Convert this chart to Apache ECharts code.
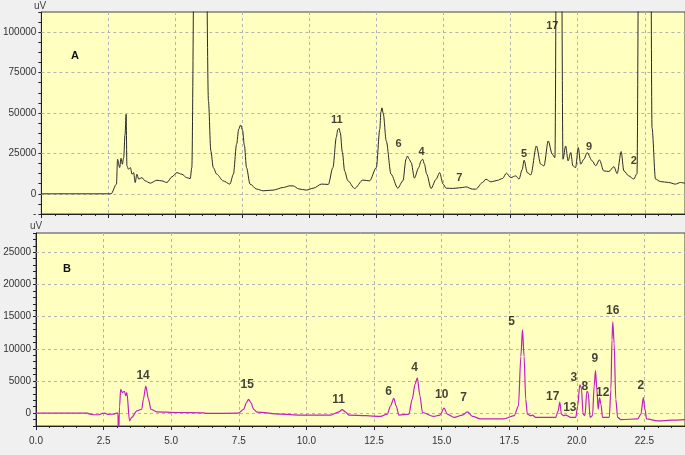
<!DOCTYPE html>
<html>
<head>
<meta charset="utf-8">
<script src="https://cdn.jsdelivr.net/npm/echarts@6/dist/echarts.min.js"></script>
<style>
html,body{margin:0;padding:0;background:#f0f0f0;}
#chart{width:685px;height:455px;}
</style>
</head>
<body>
<div id="chart"></div>
<script>
// ---- Panel A (top) chromatogram ----
const topTimes = [0,2.6,2.8,2.84,2.92,2.97,3.02,3.07,3.12,3.16,3.19,3.25,3.32,3.38,3.44,3.5,3.56,3.63,3.75,3.87,4.06,4.31,4.49,4.68,4.87,5.05,5.24,5.42,5.55,5.61,5.72,5.85,6.0,6.12,6.23,6.32,6.41,6.54,6.78,7.03,7.16,7.28,7.36,7.43,7.5,7.57,7.65,7.78,8.03,8.27,8.64,9.02,9.26,9.39,9.6,9.88,10.15,10.44,10.7,10.87,11.0,11.05,11.1,11.15,11.22,11.31,11.43,11.68,11.99,12.24,12.49,12.62,12.66,12.7,12.75,12.86,13.04,13.29,13.48,13.6,13.65,13.71,13.79,13.91,14.07,14.16,14.22,14.28,14.37,14.53,14.72,14.85,14.98,15.09,15.33,15.46,15.71,15.83,16.08,16.2,16.45,16.58,16.76,16.82,17.0,17.2,17.34,17.5,17.69,17.81,17.93,18.0,18.12,18.25,18.46,18.62,18.74,18.9,19.05,19.15,19.22,19.3,19.38,19.45,19.55,19.64,19.74,19.82,19.92,20.02,20.11,20.23,20.35,20.54,20.67,20.81,20.97,21.16,21.35,21.47,21.62,21.72,21.9,22.09,22.21,22.3,22.5,22.7,22.77,22.9,23.08,23.39,23.64,23.83,24.0];
const topSignal = [0,0,6000,21400,16200,22000,18300,22400,36800,49200,17300,15200,16200,12100,13100,7000,12100,9100,10000,8000,6600,8400,8000,7000,10500,13100,12100,10000,9400,16200,200000,400000,400000,200000,57400,26500,16200,12100,8000,6000,12100,30700,40000,42600,39500,30000,16200,6000,2900,1850,2300,3900,4900,4900,3000,2300,3500,6000,5800,16200,35000,39500,40500,37500,26000,14000,8000,3300,8500,8000,16200,40000,50500,53200,49500,32700,12100,3500,8000,21500,23400,21500,19300,9700,16200,20500,21400,18500,12100,3300,9000,13100,6000,3500,3300,3500,3900,4300,2900,2900,7000,9000,7400,7600,8300,9500,12800,10000,11100,9100,15000,20800,13100,11700,29600,18300,17300,32700,24500,22400,200000,400000,200000,21400,29600,20400,25500,17300,16200,28600,18300,21400,25500,20400,17300,21000,14200,13800,16800,12500,26100,14200,11100,9100,12500,250000,400000,250000,40900,9100,7600,7000,6000,7000,6500];
const topPeakNames = ['11','6','4','7','5','17','9','2'];
const topPeakTimes = [11.02,13.32,14.18,15.58,18.0,19.05,20.42,22.09];
const topPeakLevels = [45660,30670,26100,9690,24500,104090,29000,20360];
const topYTicks = [0,25000,50000,75000,100000];

// ---- Panel B (bottom) chromatogram ----
const bottomTimes = [0,1.9,2.0,2.1,2.35,2.45,2.55,2.65,2.85,2.99,3.03,3.05,3.09,3.13,3.2,3.27,3.32,3.36,3.46,3.54,3.73,3.91,3.97,4.06,4.16,4.25,4.47,5.21,6.2,6.3,7.49,7.68,7.78,7.86,7.95,8.05,8.17,9.04,9.78,10.89,11.2,11.32,11.44,11.57,12.2,12.74,12.99,13.11,13.23,13.32,13.42,13.79,13.91,14.02,14.1,14.2,14.29,14.71,14.94,15.09,15.21,15.46,15.77,15.95,16.14,16.44,17.3,17.68,17.84,17.93,17.99,18.05,18.11,18.17,18.3,18.36,18.48,19.22,19.31,19.37,19.43,19.51,19.59,19.78,19.96,20.03,20.11,20.17,20.23,20.3,20.37,20.42,20.49,20.58,20.64,20.69,20.74,20.79,20.84,20.89,20.95,21.2,21.26,21.3,21.33,21.38,21.44,21.51,21.63,22.25,22.37,22.46,22.52,22.58,22.99,23.5,24.0];
const bottomSignal = [0,0,-150,-250,-250,-50,0,-200,-150,0,0,-4000,1000,3700,3200,3400,2700,3200,-1200,-660,350,600,2150,4200,2150,600,200,100,50,-50,0,600,1600,2150,1600,600,150,-150,-300,-300,200,540,200,-300,-400,-500,-150,1100,2300,1100,-300,-150,2150,4500,5500,2650,100,-500,-300,770,-150,-660,-300,200,-500,-900,-900,-400,1100,8800,13000,8800,2150,-150,-400,-300,-660,-660,350,1730,-150,-400,-300,-660,-660,1100,4400,3900,-150,-400,3400,3200,-660,-400,4200,6600,3700,600,2400,1400,-660,-660,3700,11400,14200,10800,2150,-660,-1000,-900,-150,2400,600,-900,-1200,-1100,-1000];
const bottomPeakNames = ['14','15','11','6','4','10','7','5','17','13','3','8','9','12','16','2'];
const bottomPeakTimes = [3.96,7.81,11.19,13.04,14.0,15.0,15.81,17.59,19.11,19.74,19.89,20.3,20.67,20.96,21.33,22.37];
const bottomPeakLevels = [5830,4450,2150,3370,7060,2900,2450,14270,2600,770,5520,4140,8440,3220,15950,4300];
const bottomYTicks = [0,5000,10000,15000,20000,25000];

const xTickStep = 2.5;

function pairs(xs, ys){ return xs.map((x,i)=>[x, ys[i]]); }
function labelPts(ts, vs, names){ return ts.map((t,i)=>({value:[t, vs[i]], name:names[i]})); }

const axisFont = {fontFamily:'Liberation Sans, Arial, sans-serif', fontSize:10, color:'#333'};
const gridLine = {color:'#b4b4b4', type:[3,3], width:1};

function xAxisCfg(idx, showLabels){
  return {
    type:'value', gridIndex: idx, min:0, max:24, interval:xTickStep,
    axisLine:{show:true, onZero:false, lineStyle:{color:'#222', width:1}},
    axisTick:{show:true, length:4, lineStyle:{color:'#222'}},
    minorTick:{show:true, splitNumber:5, length:2, lineStyle:{color:'#222'}},
    splitLine:{show:true, lineStyle:gridLine},
    axisLabel:{show:showLabels, margin:10, showMaxLabel:false, formatter:v=>v.toFixed(1), ...axisFont}
  };
}

const peakLabelTop = {show:true, position:'inside', formatter:p=>p.name, fontFamily:'Liberation Sans, Arial', fontWeight:'bold', fontSize:11, color:'#111'};
const peakLabelBottom = {show:true, position:'inside', formatter:p=>p.name, fontFamily:'Liberation Sans, Arial', fontWeight:'bold', fontSize:12, color:'#111'};

const chart = echarts.init(document.getElementById('chart'), null, {renderer:'canvas'});
chart.setOption({
  backgroundColor:'#f0f0f0',
  animation:false,
  grid:[
    {left:41, top:12, width:645, height:202, show:true, backgroundColor:'#ffffc0', borderColor:'#444', borderWidth:1},
    {left:36, top:233, width:649, height:193, show:true, backgroundColor:'#ffffc0', borderColor:'#444', borderWidth:1}
  ],
  xAxis:[xAxisCfg(0,false), xAxisCfg(1,true)],
  yAxis:[
    {type:'value', gridIndex:0, min:-12500, max:112500, interval:6250,
     axisLine:{show:true, onZero:false, lineStyle:{color:'#222'}},
     axisTick:{show:true, length:3, lineStyle:{color:'#222'}},
     splitLine:{show:false},
     axisLabel:{margin:5, formatter:v=> topYTicks.includes(v) ? String(v) : (v===-12500 ? '-' : ''), ...axisFont}},
    {type:'value', gridIndex:1, min:-2000, max:28000, interval:1000,
     axisLine:{show:true, onZero:false, lineStyle:{color:'#222'}},
     axisTick:{show:true, length:3, lineStyle:{color:'#222'}},
     splitLine:{show:false},
     axisLabel:{margin:5, formatter:v=> bottomYTicks.includes(v) ? String(v) : '', ...axisFont}}
  ],
  graphic:[
    {type:'text', left:34, top:1, style:{text:'uV', font:'10px Liberation Sans, Arial', fill:'#444'}},
    {type:'text', left:30, top:221, style:{text:'uV', font:'10px Liberation Sans, Arial', fill:'#444'}},
    {type:'text', left:71, top:50, style:{text:'A', font:'bold 11px Liberation Sans, Arial', fill:'#111'}},
    {type:'text', left:63, top:263, style:{text:'B', font:'bold 11px Liberation Sans, Arial', fill:'#111'}}
  ],
  series:[
    {type:'line', xAxisIndex:0, yAxisIndex:0, data:[], z:1,
     markLine:{silent:true, z:1, symbol:['none','none'], label:{show:false}, lineStyle:gridLine,
       data: topYTicks.map(v=>({yAxis:v}))}},
    {type:'line', xAxisIndex:1, yAxisIndex:1, data:[], z:1,
     markLine:{silent:true, z:1, symbol:['none','none'], label:{show:false}, lineStyle:gridLine,
       data: bottomYTicks.map(v=>({yAxis:v}))}},
    {type:'line', xAxisIndex:0, yAxisIndex:0, data:pairs(topTimes, topSignal), showSymbol:false,
     smooth:0.3, smoothMonotone:'x', clip:true, z:3, lineStyle:{color:'#2a2a2a', width:1}},
    {type:'line', xAxisIndex:1, yAxisIndex:1, data:pairs(bottomTimes, bottomSignal), showSymbol:false,
     smooth:0.3, smoothMonotone:'x', clip:true, z:3, lineStyle:{color:'#c21fc2', width:1.2}},
    {type:'scatter', xAxisIndex:0, yAxisIndex:0, symbolSize:1, itemStyle:{color:'rgba(0,0,0,0)'}, z:4,
     data: labelPts(topPeakTimes, topPeakLevels, topPeakNames), label:peakLabelTop},
    {type:'scatter', xAxisIndex:1, yAxisIndex:1, symbolSize:1, itemStyle:{color:'rgba(0,0,0,0)'}, z:4,
     data: labelPts(bottomPeakTimes, bottomPeakLevels, bottomPeakNames), label:peakLabelBottom}
  ]
});
</script>
</body>
</html>
